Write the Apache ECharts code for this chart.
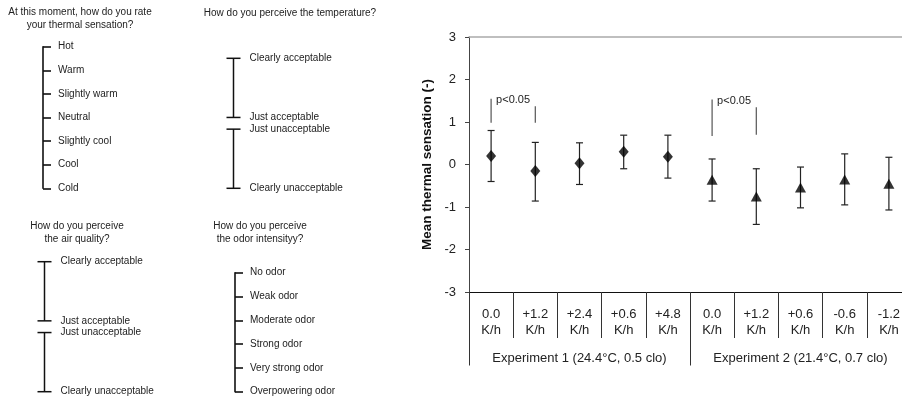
<!DOCTYPE html>
<html>
<head>
<meta charset="utf-8">
<script src="https://cdn.jsdelivr.net/npm/echarts@6/dist/echarts.min.js"></script>
<style>
  html, body { margin: 0; padding: 0; background: #fff; }
  #chart { width: 902px; height: 402px; }
</style>
</head>
<body>
<div id="chart"></div>
<script>
(function() {
  var myChart = echarts.init(document.getElementById("chart"));
  var FONT = "'Liberation Sans', Arial, sans-serif";

  // 右侧图的数据
  var conditions = ["0.0\nK/h", "+1.2\nK/h", "+2.4\nK/h", "+0.6\nK/h", "+4.8\nK/h",
                    "0.0\nK/h", "+1.2\nK/h", "+0.6\nK/h", "-0.6\nK/h", "-1.2\nK/h"];
  var experiments = ["Experiment 1 (24.4°C, 0.5 clo)", "Experiment 2 (21.4°C, 0.7 clo)"];
  var expOfCond = [0, 0, 0, 0, 0, 1, 1, 1, 1, 1];
  var meanSensation = [0.2, -0.15, 0.03, 0.3, 0.18, -0.36, -0.75, -0.54, -0.35, -0.45];
  var errHigh = [0.8, 0.52, 0.51, 0.69, 0.69, 0.13, -0.1, -0.06, 0.25, 0.17];
  var errLow = [-0.4, -0.86, -0.47, -0.1, -0.32, -0.86, -1.41, -1.02, -0.95, -1.07];
  var yMin = -3, yMax = 3, yStep = 1;

  // p<0.05 标注
  var sigLabel = "p<0.05";
  var sigPairs = [[0, 1], [5, 6]];
  var sigLeftTop = [1.55, 1.53];
  var sigLeftBottom = [0.98, 0.67];
  var sigRightTop = [1.37, 1.35];
  var sigRightBottom = [0.98, 0.70];

  // 左侧问卷量表
  var thermalTitle = "At this moment, how do you rate\nyour thermal sensation?";
  var thermalScale = ["Hot", "Warm", "Slightly warm", "Neutral", "Slightly cool", "Cool", "Cold"];
  var tempTitle = "How do you perceive the temperature?";
  var airTitle = "How do you perceive\nthe air quality?";
  var acceptLabels = [["Clearly acceptable", "Just acceptable"], ["Just unacceptable", "Clearly unacceptable"]];
  var acceptRanges = [[1, 0.09], [-0.09, -1]];
  var odorTitle = "How do you perceive\nthe odor intensityy?";
  var odorScale = ["No odor", "Weak odor", "Moderate odor", "Strong odor", "Very strong odor", "Overpowering odor"];

  var titleStyle = { fontSize: 10, fontWeight: "normal", color: "#222", lineHeight: 13, fontFamily: FONT };
  function mkTitle(text, x, y) {
    return { text: text, left: x, top: y, textAlign: "center", padding: 0, textStyle: titleStyle };
  }

  function scaleAxis(gridIndex, data) {
    return {
      type: "category", gridIndex: gridIndex, inverse: true, boundaryGap: false, data: data,
      axisLine: { show: true, lineStyle: { color: "#111", width: 1.6 } },
      axisTick: { show: true, inside: true, length: 8, interval: 0, lineStyle: { color: "#111", width: 1.6 } },
      axisLabel: { show: true, inside: true, margin: 15, interval: 0, fontSize: 10, color: "#222", fontFamily: FONT },
      splitLine: { show: false }
    };
  }
  function hiddenAxis(gridIndex, min, max) {
    return { type: "value", gridIndex: gridIndex, min: min, max: max, show: false };
  }

  // 量表的工字形括号
  function bracketRender(params, api) {
    var top = api.coord([0, api.value(0)]);
    var bot = api.coord([0, api.value(1)]);
    var names = acceptLabels[params.dataIndex];
    var ls = { stroke: "#111", lineWidth: 1.5 };
    var txt = { fontSize: 10, fill: "#222", fontFamily: FONT, align: "left", verticalAlign: "middle" };
    return {
      type: "group",
      children: [
        { type: "line", shape: { x1: top[0], y1: top[1], x2: bot[0], y2: bot[1] }, style: ls },
        { type: "line", shape: { x1: top[0] - 7, y1: top[1], x2: top[0] + 7, y2: top[1] }, style: ls },
        { type: "line", shape: { x1: bot[0] - 7, y1: bot[1], x2: bot[0] + 7, y2: bot[1] }, style: ls },
        { type: "text", style: echarts.util.extend({ x: top[0] + 16, y: top[1], text: names[0] }, txt) },
        { type: "text", style: echarts.util.extend({ x: bot[0] + 16, y: bot[1], text: names[1] }, txt) }
      ]
    };
  }

  var option = {
    animation: false,
    backgroundColor: "#fff",
    title: [
      mkTitle(thermalTitle, 80, 5.5),
      mkTitle(tempTitle, 290, 7),
      mkTitle(airTitle, 77, 220),
      mkTitle(odorTitle, 260, 220)
    ],
    grid: [
      { left: 469, top: 37, right: -9, bottom: 110, outerBoundsMode: "none" },
      { left: 43, top: 46.7, width: 100, height: 141.6, outerBoundsMode: "none" },
      { left: 235, top: 272.7, width: 100, height: 119, outerBoundsMode: "none" },
      { left: 226, top: 58.3, width: 15, height: 130, outerBoundsMode: "none" },
      { left: 37, top: 261.7, width: 15, height: 130, outerBoundsMode: "none" }
    ],
    xAxis: [
      {
        type: "category", gridIndex: 0, position: "bottom", data: conditions,
        axisLine: { show: true, onZero: false, lineStyle: { color: "#111", width: 1 } },
        axisTick: { show: true, interval: 0, length: 46, lineStyle: { color: "#333", width: 1 } },
        axisLabel: { interval: 0, margin: 14, fontSize: 13, lineHeight: 16, color: "#222", fontFamily: FONT },
        splitLine: { show: false }
      },
      {
        type: "category", gridIndex: 0, position: "bottom", data: experiments,
        axisLine: { show: false, onZero: false },
        axisTick: { show: true, interval: 0, length: 73.5, lineStyle: { color: "#333", width: 1 } },
        axisLabel: { interval: 0, margin: 58, fontSize: 13, lineHeight: 16, color: "#222", fontFamily: FONT },
        splitLine: { show: false }
      },
      {
        type: "value", gridIndex: 0, position: "top", min: 0, max: 1,
        axisLine: { show: true, onZero: false, lineStyle: { color: "#aaa", width: 1.5 } },
        axisTick: { show: false }, axisLabel: { show: false }, splitLine: { show: false }
      },
      hiddenAxis(1, 0, 1),
      hiddenAxis(2, 0, 1),
      hiddenAxis(3, -1, 1),
      hiddenAxis(4, -1, 1)
    ],
    yAxis: [
      {
        type: "value", gridIndex: 0, min: yMin, max: yMax, interval: yStep,
        name: "Mean thermal sensation (-)", nameLocation: "middle", nameGap: 35,
        nameTextStyle: { fontSize: 13.5, fontWeight: "bold", color: "#111", fontFamily: FONT },
        axisLine: { show: true, onZero: false, lineStyle: { color: "#444", width: 1 } },
        axisTick: { show: true, length: 4, lineStyle: { color: "#444" } },
        axisLabel: { fontSize: 13, margin: 13, color: "#222", fontFamily: FONT },
        splitLine: { show: false }
      },
      scaleAxis(1, thermalScale),
      scaleAxis(2, odorScale),
      hiddenAxis(3, -1, 1),
      hiddenAxis(4, -1, 1)
    ],
    series: [
      {
        type: "custom", name: "error", xAxisIndex: 0, yAxisIndex: 0, z: 2,
        data: conditions.map(function(c, i) { return [i, errLow[i], errHigh[i]]; }),
        renderItem: function(params, api) {
          var lo = api.coord([api.value(0), api.value(1)]);
          var hi = api.coord([api.value(0), api.value(2)]);
          var ls = { stroke: "#222", lineWidth: 1.2 };
          return {
            type: "group",
            children: [
              { type: "line", shape: { x1: lo[0], y1: lo[1], x2: hi[0], y2: hi[1] }, style: ls },
              { type: "line", shape: { x1: lo[0] - 3.5, y1: lo[1], x2: lo[0] + 3.5, y2: lo[1] }, style: ls },
              { type: "line", shape: { x1: hi[0] - 3.5, y1: hi[1], x2: hi[0] + 3.5, y2: hi[1] }, style: ls }
            ]
          };
        }
      },
      {
        type: "scatter", name: "Experiment 1", xAxisIndex: 0, yAxisIndex: 0, z: 3,
        symbol: "diamond", symbolSize: [10, 12],
        itemStyle: { color: "#000" },
        data: meanSensation.map(function(v, i) { return expOfCond[i] === 0 ? v : "-"; })
      },
      {
        type: "scatter", name: "Experiment 2", xAxisIndex: 0, yAxisIndex: 0, z: 3,
        symbol: "triangle", symbolSize: [11, 10],
        itemStyle: { color: "#000" },
        data: meanSensation.map(function(v, i) { return expOfCond[i] === 1 ? v : "-"; })
      },
      {
        type: "custom", name: "sig", xAxisIndex: 0, yAxisIndex: 0, z: 2,
        data: sigPairs.map(function(p, i) {
          return [p[0], p[1], sigLeftTop[i], sigLeftBottom[i], sigRightTop[i], sigRightBottom[i]];
        }),
        renderItem: function(params, api) {
          var lt = api.coord([api.value(0), api.value(2)]);
          var lb = api.coord([api.value(0), api.value(3)]);
          var rt = api.coord([api.value(1), api.value(4)]);
          var rb = api.coord([api.value(1), api.value(5)]);
          var ls = { stroke: "#555", lineWidth: 1.2 };
          return {
            type: "group",
            children: [
              { type: "line", shape: { x1: lt[0], y1: lt[1], x2: lb[0], y2: lb[1] }, style: ls },
              { type: "line", shape: { x1: rt[0], y1: rt[1], x2: rb[0], y2: rb[1] }, style: ls },
              { type: "text", style: { x: lt[0] + 5, y: lt[1] + 1, text: sigLabel, fontSize: 11, fill: "#222",
                fontFamily: FONT, align: "left", verticalAlign: "middle" } }
            ]
          };
        }
      },
      {
        type: "custom", name: "temperature", xAxisIndex: 5, yAxisIndex: 3,
        data: acceptRanges, renderItem: bracketRender
      },
      {
        type: "custom", name: "air", xAxisIndex: 6, yAxisIndex: 4,
        data: acceptRanges, renderItem: bracketRender
      }
    ]
  };
  myChart.setOption(option);
})();
</script>
</body>
</html>
